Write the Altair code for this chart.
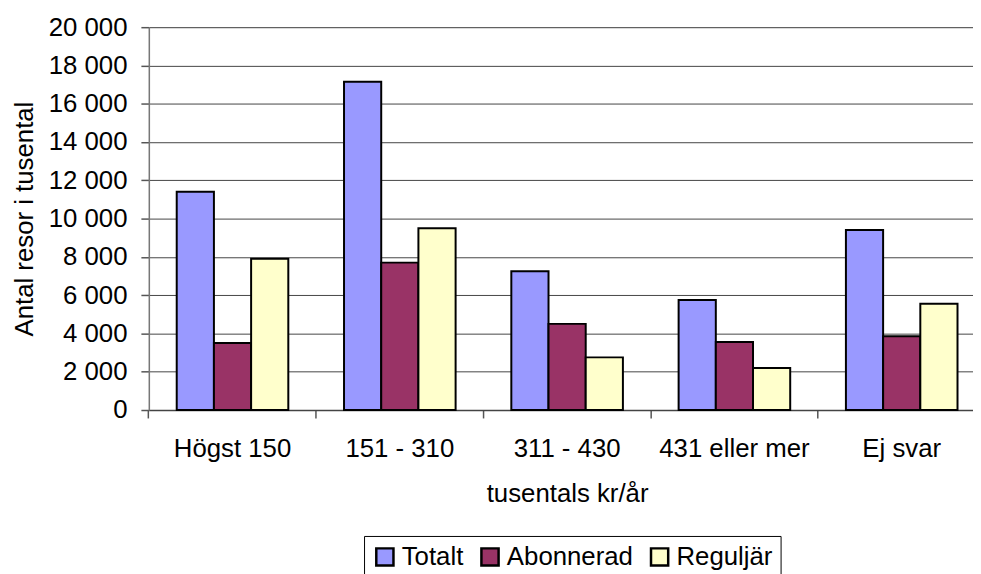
import altair as alt
import pandas as pd

categories = ["Högst 150", "151 - 310", "311 - 430", "431 eller mer", "Ej svar"]
series = ["Totalt", "Abonnerad", "Reguljär"]
totalt = [11400, 17150, 7250, 5750, 9400]
abonnerad = [3500, 7700, 4500, 3550, 3850]
reguljar = [7900, 9500, 2750, 2200, 5550]
colors = ["#9999FF", "#993366", "#FFFFCC"]
y_ticks = [0, 2000, 4000, 6000, 8000, 10000, 12000, 14000, 16000, 18000, 20000]

rows = []
for s, vals in zip(series, [totalt, abonnerad, reguljar]):
    for c, v in zip(categories, vals):
        rows.append({"kategori": c, "serie": s, "varde": v})
df = pd.DataFrame(rows)

FONT = "Liberation Sans"

chart = (
    alt.Chart(df)
    .mark_bar(stroke="#000000", strokeWidth=2)
    .encode(
        x=alt.X(
            "kategori:N",
            sort=categories,
            scale=alt.Scale(range=[0, 843.5], paddingInner=0.333, paddingOuter=0.1667),
            axis=alt.Axis(
                title="tusentals kr/år",
                titleFontSize=26,
                titleFontWeight="normal",
                titleFont=FONT,
                titleColor="#000000",
                titlePadding=19,
                labelFontSize=26,
                labelFont=FONT,
                labelColor="#000000",
                labelPadding=18,
                labelAngle=0,
                labelOverlap=False,
                tickSize=8,
                tickColor="#555555",
                tickWidth=1.5,
                bandPosition=-0.25,
                domainColor="#444444",
                domainWidth=1.5,
            ),
        ),
        xOffset=alt.XOffset(
            "serie:N", sort=series, scale=alt.Scale(paddingInner=0, paddingOuter=0)
        ),
        y=alt.Y(
            "varde:Q",
            scale=alt.Scale(domain=[0, 20000], nice=False),
            axis=alt.Axis(
                title="Antal resor i tusental",
                titleFontSize=26,
                titleFontWeight="normal",
                titleFont=FONT,
                titleColor="#000000",
                titlePadding=11,
                values=y_ticks,
                labelExpr="replace(format(datum.value, ','), ',', ' ')",
                labelFontSize=26,
                labelFont=FONT,
                labelColor="#000000",
                labelPadding=14,
                tickSize=8,
                tickColor="#555555",
                tickWidth=1.5,
                domainColor="#777777",
                domainWidth=1.5,
                grid=True,
                gridColor="#444444",
                gridWidth=1,
            ),
        ),
        color=alt.Color(
            "serie:N",
            sort=series,
            scale=alt.Scale(domain=series, range=colors),
            legend=alt.Legend(
                title=None,
                orient="none",
                direction="horizontal",
                legendX=217,
                legendY=513,
                padding=8,
                labelFontSize=26,
                labelFont=FONT,
                labelColor="#000000",
                labelOffset=4,
                columnPadding=12,
                symbolType="square",
                symbolSize=300,
                symbolStrokeColor="#000000",
                symbolStrokeWidth=2.5,
                symbolOpacity=1,
                strokeColor="#000000",
                fillColor="#FFFFFF",
            ),
        ),
    )
    .properties(
        width=831,
        height=386,
        autosize=alt.AutoSizeParams(type="none"),
        padding={"left": 142, "top": 17, "right": 0, "bottom": 163},
    )
    .configure_view(stroke="transparent")
    .configure(font=FONT)
)

chart.save("out.html", embed_options={"renderer": "svg", "actions": False})
